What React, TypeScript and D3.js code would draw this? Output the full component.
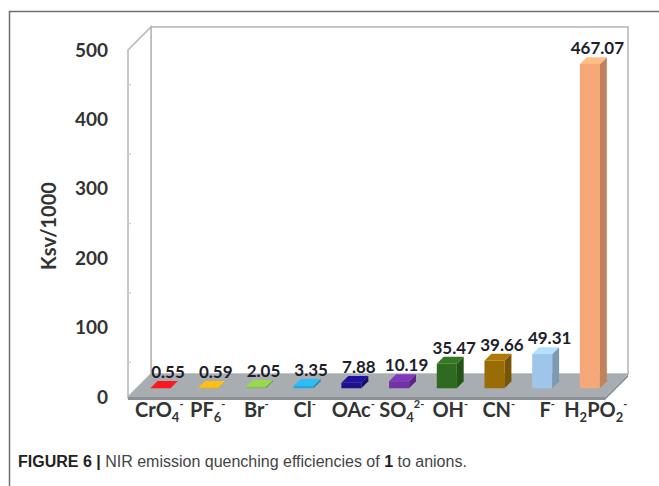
import React from "react";
import * as d3 from "d3";

const categories = ["CrO4-", "PF6-", "Br-", "Cl-", "OAc-", "SO42-", "OH-", "CN-", "F-", "H2PO2-"];
const values = [0.55, 0.59, 2.05, 3.35, 7.88, 10.19, 35.47, 39.66, 49.31, 467.07];
const valueLabels = ["0.55", "0.59", "2.05", "3.35", "7.88", "10.19", "35.47", "39.66", "49.31", "467.07"];
const colors = ["#e3141c", "#e6a90c", "#86bf45", "#27a7d9", "#1b0f8c", "#7232a6", "#2e6a1f", "#9a6c06", "#9fc6ea", "#f6a878"];
const yTicks = [0, 100, 200, 300, 400, 500];
const minorMarks = [50, 150, 250, 350, 450];

const labelParts: [string, string][][] = [
  [["CrO", "n"], ["4", "b"], ["-", "p"]],
  [["PF", "n"], ["6", "b"], ["-", "p"]],
  [["Br", "n"], ["-", "p"]],
  [["Cl", "n"], ["-", "p"]],
  [["OAc", "n"], ["-", "p"]],
  [["SO", "n"], ["4", "b"], ["2-", "p"]],
  [["OH", "n"], ["-", "p"]],
  [["CN", "n"], ["-", "p"]],
  [["F", "n"], ["-", "p"]],
  [["H", "n"], ["2", "b"], ["PO", "n"], ["2", "b"], ["-", "p"]],
];

const W = 659;
const H = 486;
const FX0 = 128;
const FX1 = 605;
const DX = 23;
const DY = -23;
const Z1 = 0.38;
const Z2 = 0.68;
const FONT = "Lato, 'Open Sans', sans-serif";

function renderLabel(parts: [string, string][]) {
  let state = "n";
  const off = (s: string) => (s === "b" ? 5 : s === "p" ? -9 : 0);
  return parts.map(([t, k], i) => {
    const dy = off(k) - off(state);
    state = k;
    return (
      <tspan key={i} dy={dy} fontSize={k === "n" ? 20 : k === "b" ? 13 : 11}>
        {t}
      </tspan>
    );
  });
}

export default function App() {
  const x = d3.scaleBand<string>().domain(categories).range([FX0, FX1]).paddingInner(0).paddingOuter(0);
  const xl = d3.scaleBand<string>().domain(categories).range([FX0 + 7, FX1 + 15]);
  const y = d3.scaleLinear().domain([0, 500]).range([397, 50]);
  const bw = x.bandwidth() * 0.42;
  const y0 = y(0);

  const P = (px: number, py: number, z: number) => [px + DX * z, py + DY * z];
  const poly = (pts: number[][]) => pts.map((p) => p.join(",")).join(" ");

  return (
    <svg width={W} height={H} style={{ position: "absolute", left: 0, top: 0, background: "#fff" }}>
      <rect x={0} y={0} width={W} height={H} fill="#fff" />
      <path d={`M9.5,${H} V11.5 H${W}`} fill="none" stroke="#707070" strokeWidth={1.5} />

      <rect x={FX0 + DX} y={y(500) + DY} width={FX1 - FX0} height={y0 - y(500)} fill="#fff" stroke="#b8b8b8" strokeWidth={1.6} />
      <polygon
        points={poly([
          [FX0, y0],
          [FX0, y(500)],
          [FX0 + DX, y(500) + DY],
          [FX0 + DX, y0 + DY],
        ])}
        fill="#fff"
        stroke="#b8b8b8"
        strokeWidth={1.6}
      />
      {minorMarks.map((m) => (
        <line key={m} x1={FX0 - 1} x2={FX0 + 3} y1={y(m)} y2={y(m)} stroke="#d0d0d0" strokeWidth={1.5} />
      ))}

      <polygon
        points={poly([
          [FX0, y0 + 3],
          [FX1, y0 + 3],
          [FX1 + DX, y0 + DY + 3],
          [FX1 + DX, y0 + DY],
          [FX1, y0],
          [FX0, y0],
        ])}
        fill="#8c9095"
      />
      <polygon
        points={poly([
          [FX0, y0],
          [FX1, y0],
          [FX1 + DX, y0 + DY],
          [FX0 + DX, y0 + DY],
        ])}
        fill="#a8adb2"
      />

      {categories.map((c, i) => {
        const cx = (x(c) as number) + x.bandwidth() / 2;
        const l = cx - bw / 2;
        const r = cx + bw / 2;
        const top = y(values[i]);
        const col = d3.color(colors[i])!;
        const side = col.darker(0.7).formatHex();
        const topc = col.brighter(0.35).formatHex();
        const ftl = P(l, top, Z1), ftr = P(r, top, Z1), fbl = P(l, y0, Z1), fbr = P(r, y0, Z1);
        const btl = P(l, top, Z2), btr = P(r, top, Z2), bbr = P(r, y0, Z2);
        return (
          <g key={c}>
            <polygon points={poly([fbl, ftl, ftr, fbr])} fill={colors[i]} />
            <polygon points={poly([fbr, ftr, btr, bbr])} fill={side} />
            <polygon points={poly([ftl, ftr, btr, btl])} fill={topc} />
          </g>
        );
      })}

      {categories.map((c, i) => {
        const cx = (x(c) as number) + x.bandwidth() / 2 + DX * 0.53 + 4;
        const ty = y(values[i]) + DY * Z2 - 3;
        return (
          <text key={c} x={cx} y={ty} textAnchor="middle" fontFamily={FONT} fontWeight="bold" fontSize={17} fill="#1e1e2a">
            {valueLabels[i]}
          </text>
        );
      })}

      {yTicks.map((t) => (
        <text key={t} x={108} y={y(t) + 6.5} textAnchor="end" fontFamily={FONT} fontWeight="bold" fontSize={19} fill="#333">
          {t}
        </text>
      ))}
      <text
        transform="translate(56,226) rotate(-90)"
        textAnchor="middle"
        fontFamily={FONT}
        fontWeight="bold"
        fontSize={20}
        fill="#333"
      >
        Ksv/1000
      </text>

      {categories.map((c, i) => {
        const cx = (xl(c) as number) + xl.bandwidth() / 2;
        return (
          <text key={c} x={cx} y={417} textAnchor="middle" fontFamily={FONT} fontWeight="bold" fill="#333">
            {renderLabel(labelParts[i])}
          </text>
        );
      })}

      <text x={18} y={467} fontFamily="'Liberation Sans', Arial, sans-serif" fontSize={16} fill="#444">
        <tspan fontWeight="bold" fill="#222">FIGURE 6 | </tspan>
        <tspan>NIR emission quenching efficiencies of </tspan>
        <tspan fontWeight="bold" fill="#222">1</tspan>
        <tspan> to anions.</tspan>
      </text>
    </svg>
  );
}
